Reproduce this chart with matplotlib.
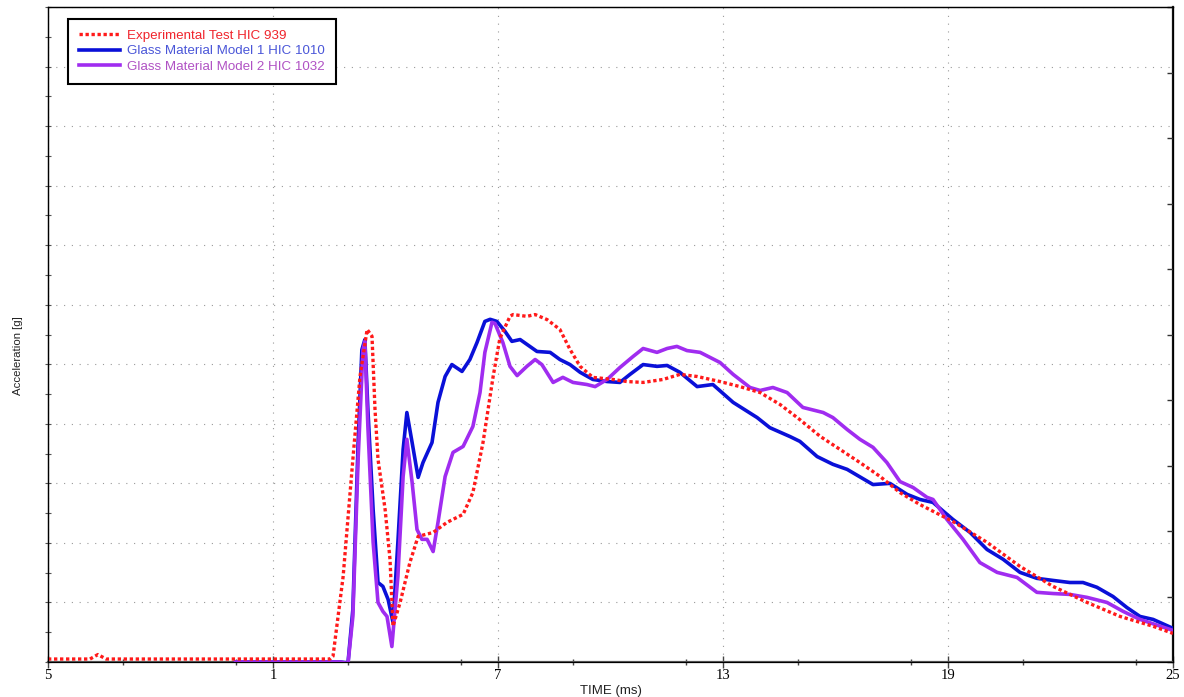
import numpy as np
import matplotlib
matplotlib.use("Agg")
import matplotlib.pyplot as plt
from matplotlib.ticker import MultipleLocator, FixedLocator

# time (ms) / acceleration (g)
exp_t = [-5.0, -3.88, -3.67, -3.45, 2.52, 2.60, 2.87, 3.13, 3.32, 3.51, 3.64, 3.72,
         3.80, 3.99, 4.12, 4.20, 4.39, 4.65, 4.87, 5.27, 5.64, 6.07, 6.33, 6.60,
         6.87, 7.05, 7.32, 7.40, 7.77, 7.99, 8.31, 8.65, 8.92, 9.19, 9.53, 10.07,
         10.44, 10.87, 11.40, 11.85, 12.31, 12.92, 13.45, 13.99, 14.52, 15.05,
         15.59, 16.12, 16.65, 17.19, 17.72, 18.25, 19.13, 20.04, 20.92, 21.80,
         22.71, 23.59, 24.47, 25.0]
exp_g = [1.0, 1.0, 2.5, 1.0, 1.0, 1.9, 28.7, 68.1, 95.9, 111.7, 109.4, 84.9,
         68.1, 51.2, 34.5, 12.0, 20.0, 33.4, 42.2, 43.5, 46.9, 49.6, 56.9, 73.7,
         95.9, 108.7, 116.1, 116.7, 116.1, 116.7, 115.0, 111.7, 105.0, 99.3, 95.6, 94.9,
         94.2, 93.9, 94.9, 96.6, 95.9, 94.2, 92.5, 90.5, 86.5, 81.4,
         75.8, 71.4, 67.0, 62.3, 56.9, 52.9, 47.2, 40.2, 32.1, 25.4,
         20.0, 15.3, 12.0, 9.6]

m1_t = [0.0, 2.79, 3.00, 3.13, 3.27, 3.37, 3.45, 3.53, 3.67, 3.80, 3.93, 4.07, 4.20,
        4.33, 4.47, 4.57, 4.71, 4.87, 5.00, 5.24, 5.40, 5.59, 5.77, 6.04, 6.25,
        6.44, 6.65, 6.79, 6.97, 7.19, 7.37, 7.59, 7.77, 8.04, 8.39, 8.65, 8.92,
        9.19, 9.53, 9.91, 10.25, 10.52, 10.87, 11.24, 11.51, 11.85, 12.31, 12.73,
        13.27, 13.91, 14.25, 14.79, 15.05, 15.51, 15.93, 16.31, 17.00, 17.45,
        17.91, 18.25, 18.60, 19.13, 19.59, 20.04, 20.47, 20.92, 21.37, 21.80,
        22.25, 22.60, 22.97, 23.40, 23.77, 24.12, 24.47, 25.0]
m1_g = [0.0, 0.0, -0.3, 17.7, 73.7, 104.9, 108.3, 84.9, 51.2, 26.7, 25.4, 21.0, 13.3,
        40.2, 71.4, 83.8, 73.7, 62.0, 67.0, 73.7, 87.2, 95.9, 99.9, 97.6, 101.6,
        107.3, 114.4, 115.1, 114.4, 111.0, 107.7, 108.3, 106.7, 104.3, 104.0, 101.6, 99.9,
        97.3, 94.9, 94.2, 93.9, 96.6, 99.9, 99.3, 99.6, 97.3, 92.5, 93.2,
        87.2, 82.1, 78.7, 75.7, 74.1, 69.0, 66.4, 64.7, 59.6, 60.0,
        56.3, 54.6, 53.6, 47.9, 43.5, 37.8, 34.5, 30.1, 28.1, 27.4,
        26.7, 26.7, 25.1, 22.0, 18.3, 15.3, 14.3, 11.3]

m2_t = [0.0, 2.79, 3.00, 3.13, 3.27, 3.40, 3.45, 3.53, 3.67, 3.80, 3.93, 4.04, 4.17,
        4.33, 4.47, 4.57, 4.71, 4.84, 4.97, 5.11, 5.27, 5.40, 5.59, 5.80, 6.07,
        6.33, 6.52, 6.65, 6.84, 6.92, 7.13, 7.32, 7.51, 7.77, 7.99, 8.17, 8.47,
        8.73, 9.00, 9.37, 9.59, 9.91, 10.25, 10.60, 10.87, 11.24, 11.51, 11.77,
        12.04, 12.39, 12.92, 13.27, 13.72, 13.99, 14.33, 14.71, 15.13, 15.67,
        15.93, 16.31, 16.65, 17.00, 17.37, 17.72, 18.07, 18.44, 18.60, 18.97,
        19.40, 19.85, 20.31, 20.84, 21.37, 21.80, 22.25, 22.71, 23.24, 23.67,
        24.12, 25.0]
m2_g = [0.0, 0.0, -0.5, 15.3, 68.1, 104.9, 107.7, 79.1, 40.2, 20.0, 17.0, 15.3, 5.2,
        28.7, 62.3, 74.8, 60.3, 44.5, 41.2, 41.2, 37.1, 46.9, 62.3, 70.4, 72.4,
        79.1, 90.5, 104.0, 114.1, 113.7, 107.3, 99.3, 96.2, 99.3, 101.6, 99.9, 93.9,
        95.6, 93.9, 93.2, 92.5, 94.9, 98.9, 102.6, 105.3, 104.0, 105.3, 106.0,
        104.6, 104.0, 100.6, 96.6, 92.2, 91.2, 92.2, 90.5, 85.5, 83.8,
        82.1, 78.1, 74.8, 72.1, 67.0, 60.6, 58.6, 55.3, 54.6, 47.9,
        41.2, 33.4, 30.1, 28.4, 23.4, 23.0, 22.7, 21.7, 20.0, 17.0,
        14.3, 10.6]

labels = ["Experimental Test HIC 939",
          "Glass Material Model 1 HIC 1010",
          "Glass Material Model 2 HIC 1032"]
x_ticks = [-5, 1, 7, 13, 19, 25]
x_tick_labels = ["5", "1", "7", "13", "19", "25"]

W, H = 1184, 697
fig = plt.figure(figsize=(W / 100, H / 100), dpi=100)
ax = fig.add_axes([48 / W, (H - 662) / H, (1173 - 48) / W, (662 - 7) / H])

ax.plot(m1_t, m1_g, color="#0a10d8", lw=2.6, label=labels[1], zorder=3,
        solid_joinstyle="round")
ax.plot(m2_t, m2_g, color="#a02cf0", lw=2.6, label=labels[2], zorder=4,
        solid_joinstyle="round")
ax.plot(exp_t, exp_g, color="#ff1a1a", lw=2.4, ls=(0, (1, 0.8)), label=labels[0],
        zorder=5)

ax.set_xlim(-5, 25)
ax.set_ylim(0, 220)

ax.xaxis.set_major_locator(FixedLocator(x_ticks))
ax.set_xticklabels(x_tick_labels, family="Liberation Serif", fontsize=10.5)
ax.xaxis.set_minor_locator(MultipleLocator(3))
ax.yaxis.set_major_locator(MultipleLocator(20))
ax.yaxis.set_minor_locator(MultipleLocator(10))
ax.tick_params(axis="y", which="both", labelleft=False, direction="inout",
               length=4, width=0.8, color="#555555")
ax.tick_params(axis="x", which="major", direction="inout", length=8, width=1,
               color="#444444", pad=1)
ax.tick_params(axis="x", which="minor", direction="inout", length=5, width=1,
               color="#444444")

ax.grid(True, which="major", color="#9a9a9a", lw=0.8, ls=(0, (1, 6)))

for side in ["left", "top"]:
    ax.spines[side].set_linewidth(1.0)
    ax.spines[side].set_color("#222222")
ax.spines["bottom"].set_linewidth(1.6)
ax.spines["bottom"].set_color("#555555")
ax.spines["right"].set_linewidth(1.6)
ax.spines["right"].set_color("#111111")

# right-hand axis only carries tick marks
ax2 = ax.twinx()
ax2.set_ylim(0, 10)
ax2.yaxis.set_major_locator(MultipleLocator(1))
ax2.tick_params(axis="y", direction="in", length=4, width=1, labelright=False,
                color="#333333")

ax.set_xlabel("TIME (ms)", family="Liberation Sans", fontsize=9.5, labelpad=2,
              color="#222222")
ax.set_ylabel("Acceleration [g]", family="Liberation Sans", fontsize=8.2,
              color="#222222")
ax.yaxis.set_label_coords(-0.022, 0.467)

handles, labs = ax.get_legend_handles_labels()
order = [2, 0, 1]
leg = ax.legend([handles[i] for i in order], [labs[i] for i in order],
                loc="upper left", bbox_to_anchor=(0.0178, 0.982), borderaxespad=0,
                prop={"family": "Liberation Sans", "size": 9.6}, handlelength=3.1,
                handletextpad=0.55, labelspacing=0.25, borderpad=0.8,
                fancybox=False, framealpha=1, edgecolor="black")
leg.get_frame().set_linewidth(1.5)
for txt, col in zip(leg.get_texts(), ["#f0242c", "#4a56d8", "#b052c4"]):
    txt.set_color(col)
leg.set_zorder(10)

fig.savefig("out.png", dpi=100)
